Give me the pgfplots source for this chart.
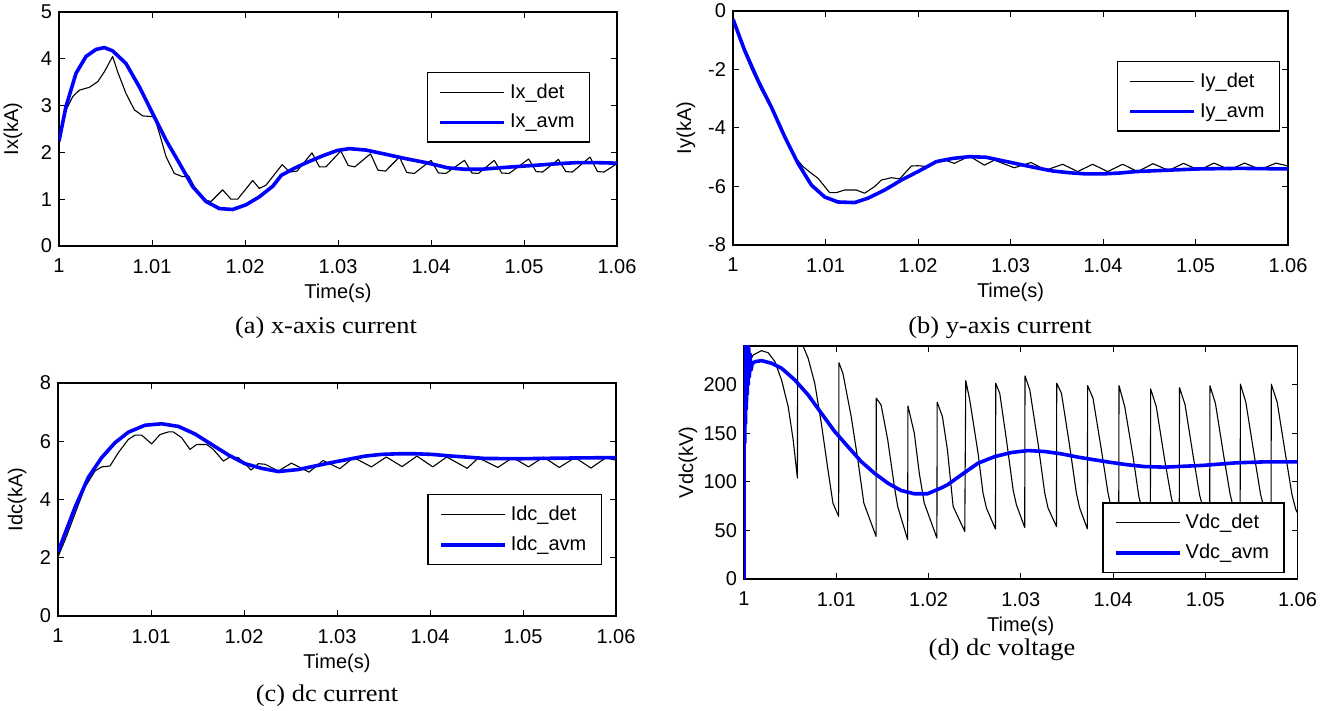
\documentclass[border=0pt]{standalone}
\usepackage{fontspec}
\setmainfont{Liberation Serif}
\setsansfont{Liberation Sans}
\usepackage{pgfplots}
\usepackage{pgfplotstable}
\pgfplotsset{compat=1.18}

\definecolor{avmblue}{RGB}{0,0,255}

% ---- (a) x-axis current ----
\pgfplotstableread{
t v
1.0000 2.19
1.00075 2.90
1.00147 3.19
1.00219 3.33
1.00326 3.39
1.00416 3.51
1.00487 3.72
1.00577 4.05
1.00631 3.72
1.0072 3.26
1.0081 2.91
1.0090 2.78
1.01025 2.76
1.01079 2.41
1.01151 1.91
1.0124 1.55
1.0133 1.48
1.01394 1.50
1.01455 1.27
1.01545 1.00
1.01634 0.95
1.0176 1.20
1.01849 1.00
1.01921 1.00
1.02083 1.40
1.02154 1.23
1.02226 1.30
1.0240 1.74
1.0248 1.58
1.0256 1.60
1.0272 1.99
1.0280 1.69
1.0287 1.69
1.0303 2.03
1.0311 1.72
1.0318 1.69
1.0335 1.97
1.0343 1.62
1.0351 1.60
1.0366 1.90
1.0374 1.57
1.0382 1.55
1.0400 1.83
1.0408 1.56
1.0416 1.55
1.0436 1.83
1.0444 1.56
1.0451 1.55
1.0468 1.83
1.0476 1.56
1.0484 1.55
1.0505 1.86
1.0513 1.59
1.0520 1.58
1.0537 1.85
1.0545 1.59
1.0552 1.58
1.0571 1.90
1.0579 1.59
1.0586 1.58
1.0600 1.76
}\ixdet
\pgfplotstableread{
t v
1.0000 2.24
1.00075 2.98
1.00183 3.69
1.0029 4.05
1.00398 4.20
1.00487 4.24
1.00577 4.17
1.0072 3.90
1.00864 3.40
1.01007 2.83
1.01151 2.26
1.01294 1.77
1.01437 1.27
1.01581 0.95
1.01724 0.80
1.01867 0.78
1.02011 0.88
1.02154 1.05
1.0230 1.28
1.0239 1.51
1.0253 1.66
1.0267 1.79
1.0284 1.93
1.0299 2.04
1.0312 2.08
1.0330 2.05
1.0349 1.97
1.0372 1.87
1.0395 1.78
1.0418 1.67
1.0436 1.64
1.0454 1.64
1.0480 1.68
1.0509 1.72
1.0530 1.75
1.0555 1.78
1.0580 1.78
1.0600 1.77
}\ixavm

% ---- (b) y-axis current ----
\pgfplotstableread{
t v
1.0000 -0.22
1.0009 -1.13
1.00198 -1.98
1.00306 -2.71
1.00378 -3.11
1.00486 -3.73
1.00559 -4.24
1.00667 -4.98
1.00757 -5.32
1.00847 -5.55
1.00919 -5.72
1.00991 -6.00
1.01045 -6.21
1.01117 -6.21
1.01207 -6.12
1.01333 -6.12
1.01423 -6.23
1.01532 -6.00
1.01604 -5.78
1.01712 -5.70
1.01802 -5.74
1.01928 -5.30
1.0200 -5.29
1.02108 -5.32
1.0218 -5.20
1.02267 -5.07
1.02393 -5.21
1.02555 -4.96
1.02717 -5.27
1.02825 -5.10
1.03041 -5.36
1.03222 -5.18
1.03384 -5.44
1.03564 -5.24
1.03726 -5.49
1.03888 -5.24
1.0405 -5.49
1.04213 -5.24
1.04375 -5.49
1.0454 -5.22
1.0471 -5.45
1.0487 -5.21
1.0504 -5.44
1.0520 -5.20
1.0537 -5.43
1.0553 -5.20
1.0570 -5.42
1.0587 -5.20
1.0600 -5.30
}\iydet
\pgfplotstableread{
t v
1.0000 -0.28
1.00126 -1.35
1.0027 -2.37
1.00414 -3.28
1.00559 -4.30
1.00703 -5.21
1.00847 -5.95
1.00991 -6.36
1.01135 -6.53
1.01315 -6.55
1.01459 -6.40
1.0164 -6.12
1.0182 -5.78
1.0200 -5.49
1.02198 -5.15
1.02375 -5.04
1.02555 -4.98
1.02735 -5.00
1.02915 -5.12
1.03095 -5.24
1.03276 -5.36
1.03456 -5.47
1.03636 -5.53
1.03816 -5.57
1.03996 -5.57
1.04176 -5.54
1.04357 -5.49
1.04573 -5.46
1.0502 -5.40
1.0547 -5.38
1.0600 -5.40
}\iyavm

% ---- (c) dc current ----
\pgfplotstableread{
t v
1.0000 2.03
1.00075 2.60
1.00183 3.51
1.0029 4.42
1.00398 4.98
1.0047 5.12
1.00559 5.15
1.00649 5.61
1.00756 6.06
1.00828 6.21
1.0090 6.21
1.01007 5.91
1.01097 6.23
1.01186 6.32
1.0124 6.32
1.0133 6.12
1.01419 5.72
1.01491 5.89
1.01599 5.89
1.0167 5.72
1.01778 5.32
1.0185 5.46
1.01939 5.44
1.02011 5.23
1.02075 5.01
1.02154 5.23
1.02226 5.21
1.0237 4.98
1.0251 5.25
1.0270 4.94
1.0285 5.34
1.0303 5.06
1.0318 5.44
1.0337 5.12
1.0353 5.46
1.0370 5.13
1.0386 5.49
1.0403 5.12
1.0418 5.46
1.0440 5.07
1.0452 5.43
1.0473 5.10
1.0489 5.44
1.0506 5.12
1.0522 5.46
1.0539 5.10
1.0556 5.44
1.0573 5.08
1.0589 5.43
1.0600 5.35
}\idcdet
\pgfplotstableread{
t v
1.0000 2.20
1.00075 2.83
1.00183 3.73
1.00326 4.76
1.0047 5.44
1.00613 5.95
1.00756 6.31
1.00935 6.55
1.01115 6.60
1.01294 6.51
1.01473 6.25
1.01652 5.89
1.01832 5.53
1.02011 5.23
1.0219 5.07
1.02369 4.96
1.02584 5.03
1.02763 5.15
1.02943 5.27
1.03122 5.38
1.03301 5.49
1.0348 5.55
1.0366 5.57
1.03839 5.57
1.04018 5.55
1.04197 5.50
1.04376 5.46
1.04591 5.41
1.0497 5.40
1.0540 5.42
1.0600 5.44
}\idcavm

% ---- (d) dc voltage ----
\pgfplotstableread{
t v
1.00000 0
1.00020 200
1.0005 222
1.0010 230.8
1.0019 235.2
1.00263 233
1.00335 223.9
1.00407 205
1.00479 177.6
1.00533 143.3
1.00579 103.9
1.00582 265
1.0064 240
1.00695 227.4
1.00767 201.6
1.00838 160.5
1.0091 112.4
1.00964 78.2
1.01026 64.4
1.01029 222.8
1.01072 211.9
1.01162 167.3
1.01234 122.7
1.01299 78.2
1.01432 43.8
1.01434 186.2
1.01486 179.3
1.01558 143.3
1.0163 95.3
1.01666 74.7
1.01774 40.4
1.01777 178.3
1.01846 150.2
1.0190 109
1.01954 78.2
1.02091 42.2
1.02094 182.1
1.02151 167.3
1.02205 133
1.02267 74.7
1.02393 49
1.02404 204.3
1.02447 184.5
1.02537 129.6
1.02591 88.5
1.02628 73
1.02726 51.4
1.02729 201.6
1.02772 191.4
1.02845 143.3
1.02917 91.9
1.02953 76.4
1.03043 53.1
1.03046 209.2
1.03098 194.8
1.03187 139.9
1.0326 88.5
1.03296 73
1.03387 54.1
1.0339 201.6
1.03441 191.4
1.03531 136.4
1.03603 88.5
1.03639 73
1.03722 51.7
1.03725 199.2
1.03783 186.2
1.03874 133
1.03946 88.5
1.0398 73
1.04062 54
1.04065 199.2
1.04127 177.6
1.04217 126.1
1.0428 85
1.0432 70
1.04405 54
1.04408 195.8
1.04469 177.6
1.0456 122.7
1.0463 85
1.0466 72
1.04718 55
1.04721 197
1.0478 180
1.0487 126
1.0494 86
1.0498 72
1.05048 55
1.05051 199
1.0511 181
1.0520 127
1.0527 87
1.0531 72
1.05378 55
1.05381 200.7
1.0544 182
1.0553 128
1.0560 87
1.0564 72
1.05713 55
1.05716 200.7
1.0578 182
1.0587 128
1.0594 87
1.0598 72
1.0600 68
}\vdcdet
\pgfplotstableread{
t v
1.00000 0
1.00003 250
1.00008 140
1.00012 250
1.00017 160
1.00021 248
1.00026 175
1.00030 245
1.00035 190
1.00040 242
1.00046 200
1.00052 238
1.00058 208
1.00066 232
1.00075 215
1.00090 222
1.0012 223.9
1.00191 224.9
1.0030 222.2
1.00407 217.1
1.00551 205
1.00695 189.6
1.00838 170.8
1.00983 151.9
1.01126 136.4
1.0127 121
1.01414 109
1.01558 98.8
1.01701 91.2
1.01846 87.8
1.01989 87.8
1.02133 93.6
1.02205 97
1.02357 107.3
1.02537 119.3
1.02718 126.1
1.02899 130.3
1.03079 132.3
1.0326 131.3
1.03441 128.9
1.03621 125.5
1.03802 122.7
1.03983 120
1.04163 117.6
1.04343 115.8
1.0456 115.2
1.0497 117
1.0534 119.7
1.0566 120.7
1.0600 120.7
}\vdcavm

\newcommand{\matfont}{\sffamily\fontsize{10}{12}\selectfont}

\pgfplotsset{
  legend image code/.code={\draw[#1] (0pt,0pt) -- (32pt,0pt);},
  simfig/.style={
    scale only axis, anchor=south west,
    xmin=1, xmax=1.06,
    xtick={1,1.01,1.02,1.03,1.04,1.05,1.06},
    xticklabels={1,1.01,1.02,1.03,1.04,1.05,1.06},
    tick align=inside, xtick pos=both, ytick pos=both,
    major tick length=3pt,
    tick style={black, line width=0.5pt},
    axis line style={black, line width=0.7pt},
    tick label style={font=\matfont},
    xticklabel style={yshift=-3pt},
    label style={font=\matfont},
    xlabel={Time(s)},
    xlabel style={at={(axis description cs:0.5,0)}, anchor=center, yshift=-23.5pt},
    legend cell align=left,
    legend style={draw=black, line width=0.7pt, fill=white, font=\matfont,
      inner xsep=5.5pt, inner ysep=3.5pt, row sep=2.5pt, anchor=north east},
  },
  det/.style={black, line width=0.55pt, line join=round},
  avm/.style={avmblue, line width=1.8pt, line join=round},
}

\begin{document}
\begin{tikzpicture}
\path[use as bounding box] (0,0) rectangle (666pt,355.5pt);

% (a)
\begin{axis}[simfig, at={(29.5pt,232.5pt)}, width=279pt, height=117pt,
  ymin=0, ymax=5, ytick={0,1,2,3,4,5}, yticklabels={0,1,2,3,4,5},
  ylabel={Ix(kA)}, ylabel style={at={(axis description cs:-0.0824,0.5)}, anchor=center},
  legend style={at={(0.952,0.744)}}]
\addplot[det] table[x=t,y=v] {\ixdet};
\addlegendentry{Ix\_det}
\addplot[avm] table[x=t,y=v] {\ixavm};
\addlegendentry{Ix\_avm}
\end{axis}

% (b)
\begin{axis}[simfig, at={(366.5pt,233pt)}, width=277.5pt, height=117pt,
  ymin=-8, ymax=0, ytick={-8,-6,-4,-2,0}, yticklabels={-8,-6,-4,-2,0},
  ylabel={Iy(kA)}, ylabel style={at={(axis description cs:-0.0847,0.5)}, anchor=center},
  legend style={at={(0.986,0.786)}}]
\addplot[det] table[x=t,y=v] {\iydet};
\addlegendentry{Iy\_det}
\addplot[avm] table[x=t,y=v] {\iyavm};
\addlegendentry{Iy\_avm}
\end{axis}

% (c)
\begin{axis}[simfig, at={(29pt,47.5pt)}, width=279pt, height=116.5pt,
  ymin=0, ymax=8, ytick={0,2,4,6,8}, yticklabels={0,2,4,6,8},
  ylabel={Idc(kA)}, ylabel style={at={(axis description cs:-0.0730,0.5)}, anchor=center},
  legend style={at={(0.975,0.524)}}]
\addplot[det] table[x=t,y=v] {\idcdet};
\addlegendentry{Idc\_det}
\addplot[avm] table[x=t,y=v] {\idcavm};
\addlegendentry{Idc\_avm}
\end{axis}

% (d)
\begin{axis}[simfig, at={(372pt,66pt)}, width=276.75pt, height=116.5pt,
  ymin=0, ymax=240, ytick={0,50,100,150,200}, yticklabels={0,50,100,150,200},
  ylabel={Vdc(kV)}, ylabel style={at={(axis description cs:-0.1012,0.5)}, anchor=center},
  legend style={at={(0.977,0.330)}}]
\addplot[det] table[x=t,y=v] {\vdcdet};
\addlegendentry{Vdc\_det}
\addplot[avm] table[x=t,y=v] {\vdcavm};
\addlegendentry{Vdc\_avm}
\end{axis}

\node at (163pt,191.5pt) {\scalebox{1.1}[1]{\fontsize{12}{14}\selectfont (a) x-axis current}};
\node at (500pt,191.5pt) {\scalebox{1.1}[1]{\fontsize{12}{14}\selectfont (b) y-axis current}};
\node at (163.5pt,7.5pt) {\scalebox{1.1}[1]{\fontsize{12}{14}\selectfont (c) dc current}};
\node at (501pt,30.5pt) {\scalebox{1.1}[1]{\fontsize{12}{14}\selectfont (d) dc voltage}};
\end{tikzpicture}
\end{document}
